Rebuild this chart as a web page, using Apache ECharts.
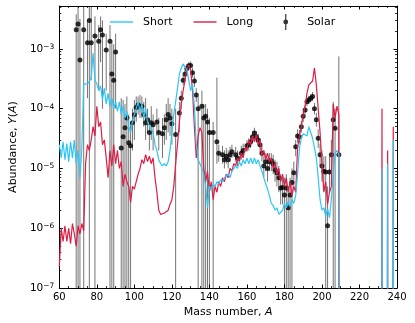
<!DOCTYPE html>
<html>
<head>
<meta charset="utf-8">
<script src="https://cdn.jsdelivr.net/npm/echarts@6/dist/echarts.min.js"></script>
<style>
html, body { margin: 0; padding: 0; background: #fff; }
#main { width: 415px; height: 323px; }
</style>
</head>
<body>
<div id="main"></div>
<script>
// model abundances, one value per mass number starting at A0 (0 = not produced)
var A0 = 60;
var shortY = [
    2.5e-5, 1.5e-5, 2.8e-5, 1.4e-5, 2.6e-5, 1.3e-5, 2.8e-5, 1.5e-5, 3.0e-5, 1.2e-5,   // 60-69
    2.0e-5, 7e-6, 2.2e-5, 2.6e-4, 2.7e-4, 2.6e-4, 2.8e-4, 3.2e-4, 8.5e-4, 3.0e-4,     // 70-79
    2.6e-4, 2.0e-4, 2.4e-4, 1.4e-4, 2.2e-4, 1.2e-4, 1.8e-4, 1.1e-4, 1.5e-4, 1.0e-4,   // 80-89
    1.3e-4, 9e-5, 1.3e-4, 8e-5, 1.1e-4, 7e-5, 9e-5, 5e-5, 4e-5, 6e-5,                 // 90-99
    8e-5, 1.0e-4, 1.3e-4, 9e-5, 1.2e-4, 7e-5, 1.0e-4, 6e-5, 6e-5, 4.5e-5,             // 100-109
    4e-5, 2.5e-5, 2e-5, 1.4e-5, 1.2e-5, 1.1e-5, 1.2e-5, 1.1e-5, 1.3e-5, 2e-5,         // 110-119
    4e-5, 8e-5, 1.3e-4, 2.2e-4, 3.8e-4, 4.8e-4, 5.6e-4, 5.2e-4, 4.5e-4, 3.0e-4,       // 120-129
    2.0e-4, 2.5e-4, 1.1e-4, 2.5e-5, 1.4e-5, 1.2e-5, 1.0e-5, 8e-6, 5e-6, 2.2e-6,       // 130-139
    5e-6, 4.5e-6, 5.5e-6, 5e-6, 6e-6, 5.5e-6, 6.5e-6, 6e-6, 7e-6, 6.5e-6,             // 140-149
    8e-6, 7e-6, 9e-6, 8.5e-6, 1.1e-5, 1.0e-5, 1.3e-5, 1.1e-5, 1.4e-5, 1.2e-5,         // 150-159
    1.5e-5, 1.2e-5, 1.5e-5, 1.2e-5, 1.5e-5, 1.2e-5, 1.4e-5, 1.1e-5, 9e-6, 7e-6,       // 160-169
    5.5e-6, 4.5e-6, 3.5e-6, 2.6e-6, 2.4e-6, 2.0e-6, 2.2e-6, 1.7e-6, 1.6e-6, 2.0e-6,   // 170-179
    2.6e-6, 2.2e-6, 2.8e-6, 2.3e-6, 3.0e-6, 2.6e-6, 3.5e-6, 8e-6, 2.2e-5, 3.2e-5,     // 180-189
    3.8e-5, 4e-5, 3.5e-5, 5e-5, 4e-5, 3.2e-5, 2.2e-5, 1.5e-5, 7e-6, 3e-6,             // 190-199
    2.0e-6, 2.2e-6, 1.6e-6, 2.1e-6, 1.5e-6, 3e-6, 8e-6, 1.8e-5, 2.0e-5, 1.7e-5,       // 200-209
    0, 0, 0, 0, 0, 0, 0, 0, 0, 0,                                                     // 210-219
    0, 0, 0, 0, 0, 0, 0, 0, 0, 0,                                                     // 220-229
    0, 0, 1e-5, 0, 0, 1.2e-5, 0, 0, 3e-5, 0,                                          // 230-239
    0                                                                                 // 240
];
var longY = [
    2.3e-7, 1.0e-6, 6e-7, 1.1e-6, 6e-7, 1.0e-6, 5.5e-7, 1.2e-6, 8e-7, 5e-7,           // 60-69
    1.1e-6, 8e-7, 1.2e-6, 9e-7, 1.2e-5, 2.5e-5, 2e-5, 3e-5, 5e-5, 3.5e-5,             // 70-79
    1.1e-4, 5e-5, 6e-5, 2.5e-5, 3e-5, 1.5e-5, 7e-6, 2e-5, 1.1e-5, 2.5e-5,             // 80-89
    1.2e-5, 2e-5, 1e-5, 1.3e-5, 5e-6, 8e-6, 6e-6, 5e-6, 2.7e-6, 5e-6,                 // 90-99
    4.5e-6, 6e-6, 8e-6, 1e-5, 1.4e-5, 1.2e-5, 1.7e-5, 1.3e-5, 1.6e-5, 1.2e-5,         // 100-109
    1.5e-5, 7e-6, 4e-6, 2e-6, 1.7e-6, 1.6e-6, 1.8e-6, 1.7e-6, 2e-6, 2.5e-6,           // 110-119
    3e-6, 5e-6, 1.2e-5, 2.5e-5, 6e-5, 1.2e-4, 2e-4, 3e-4, 4.5e-4, 5.4e-4,             // 120-129
    4.5e-4, 2e-4, 5e-5, 1.5e-5, 3.5e-5, 4.8e-5, 4e-5, 1e-5, 6e-6, 9e-6,               // 130-139
    4e-6, 6e-6, 3e-6, 5e-6, 4e-6, 6e-6, 5e-6, 7e-6, 6e-6, 8e-6,                       // 140-149
    7e-6, 1e-5, 9e-6, 1.2e-5, 1.1e-5, 1.5e-5, 1.3e-5, 1.8e-5, 1.5e-5, 2.2e-5,         // 150-159
    2e-5, 3e-5, 2.5e-5, 3.5e-5, 2.8e-5, 3.7e-5, 2.5e-5, 3e-5, 1.6e-5, 2e-5,           // 160-169
    1.4e-5, 1.8e-5, 1.3e-5, 1.5e-5, 1e-5, 1.2e-5, 8e-6, 1e-5, 6e-6, 8e-6,             // 170-179
    5e-6, 7e-6, 4e-6, 6e-6, 3.5e-6, 5e-6, 4e-6, 2.2e-5, 3.5e-5, 5e-5,                 // 180-189
    8e-5, 1.1e-4, 1.8e-4, 2.5e-4, 2.4e-4, 2.9e-4, 4.8e-4, 2.5e-4, 1e-4, 4e-5,         // 190-199
    1.2e-5, 4e-6, 6e-6, 2.5e-6, 4e-6, 5e-6, 1.2e-4, 7e-5, 1.1e-4, 8e-5,               // 200-209
    0, 0, 0, 0, 0, 0, 0, 0, 0, 0,                                                     // 210-219
    0, 0, 0, 0, 0, 0, 0, 0, 0, 0,                                                     // 220-229
    0, 0, 1e-4, 0, 0, 2e-5, 0, 0, 5e-5, 0,                                            // 230-239
    0                                                                                 // 240
];

// solar abundances with error bar limits (lower 0 = reaches down past the axis)
var solarA = [69, 70, 71, 73, 75, 76, 77, 79, 81, 82, 83, 85, 87, 88, 89, 90,
    93, 94, 95, 96, 97, 98, 99, 100, 101, 102, 103, 104, 105, 106, 107, 108, 109, 110,
    112, 113, 115, 116, 117, 118, 119, 120,
    122, 124, 125, 126, 127, 128, 129, 130, 131, 132, 133, 134, 136, 137, 138, 139, 140, 142, 144,
    145, 147, 148, 149, 150, 151, 152, 154, 155, 157, 158,
    160, 161, 162, 163, 164, 165, 166, 167, 168, 169, 170, 171, 172, 173, 174, 175, 176, 177, 178, 179,
    180, 181, 182, 183, 184, 185, 186, 187, 188, 189, 190, 191, 192, 193, 194, 195, 196, 197, 198, 199,
    200, 201, 202, 203, 204, 205, 206, 207, 209];
var solarY = [2.1e-3, 2.6e-3, 6.5e-4, 2.1e-3, 1.27e-3, 3.0e-3, 1.27e-3, 1.65e-3, 1.34e-3, 2.1e-3, 1.7e-3, 9.6e-4, 1.34e-3, 3.8e-4, 3.0e-4, 8.9e-4,
    2.2e-5, 3.4e-5, 4.8e-5, 7.0e-5, 2.7e-5, 2.4e-5, 5.8e-5, 7.9e-5, 1.05e-4, 1.15e-4, 1.1e-4, 1.1e-4, 8.0e-5, 5.8e-5, 6.5e-5, 4.0e-5, 5.8e-5, 5.4e-5,
    6.0e-5, 4.0e-5, 3.8e-5, 4.8e-5, 6.5e-5, 8.0e-5, 7.0e-5, 5.6e-5,
    3.7e-5, 8.5e-5, 1.5e-4, 3.0e-4, 3.8e-4, 4.7e-4, 5.2e-4, 5.3e-4, 4.0e-4, 2.9e-4, 1.7e-4, 1.0e-4, 1.1e-4, 7.0e-5, 7.5e-5, 6.0e-5, 4.0e-5, 4.0e-5, 2.8e-5,
    1.8e-5, 1.7e-5, 1.4e-5, 1.6e-5, 1.4e-5, 1.7e-5, 1.9e-5, 1.7e-5, 1.5e-5, 1.8e-5, 2.0e-5,
    2.4e-5, 2.5e-5, 2.8e-5, 3.4e-5, 3.9e-5, 3.4e-5, 3.0e-5, 2.5e-5, 1.8e-5, 1.1e-5, 1.3e-5, 1.0e-5, 1.3e-5, 1.35e-5, 1.2e-5, 9.5e-6, 8.5e-6, 7.0e-6, 4.7e-6, 4.8e-6,
    3.6e-6, 4.7e-6, 2.2e-6, 3.6e-6, 5.8e-6, 8.5e-6, 2.3e-5, 3.5e-5, 3.4e-5, 5.0e-5, 7.5e-5, 9.5e-5, 1.3e-4, 1.4e-4, 1.5e-4, 1.6e-4, 1.0e-4, 6.5e-5, 3.2e-5, 1.7e-5,
    1.1e-5, 9.0e-6, 8.7e-6, 1.1e-6, 8.7e-6, 1.7e-5, 6.5e-5, 4.7e-5, 1.7e-5];
var solarLo = [0, 0, 0, 0, 1.5e-4, 0, 3e-4, 0, 2e-4, 6e-4, 1e-4, 2e-4, 0, 0, 0, 1e-4,
    0, 0, 0, 0, 0, 0, 2e-5, 3e-5, 6e-5, 8e-5, 7e-5, 7e-5, 5e-5, 3e-5, 4e-5, 2e-5, 3e-5, 2e-5,
    3.5e-5, 2e-5, 1.5e-5, 2.5e-5, 3e-5, 4e-5, 3.5e-5, 2.5e-5,
    0, 4e-5, 1e-4, 2.5e-4, 3.2e-4, 4e-4, 4.5e-4, 4.5e-4, 3.3e-4, 2.3e-4, 1.3e-4, 0, 0, 0, 0, 0, 0, 0, 1.2e-5,
    1.3e-5, 1.2e-5, 1e-5, 1.2e-5, 1e-5, 1.3e-5, 1.5e-5, 1.3e-5, 1.1e-5, 1.4e-5, 1.6e-5,
    1.9e-5, 2e-5, 2.2e-5, 2.7e-5, 3.1e-5, 2.7e-5, 2.4e-5, 1.9e-5, 1.3e-5, 7e-6, 9e-6, 6e-6, 9e-6, 9e-6, 8e-6, 6e-6, 5e-6, 4e-6, 2.5e-6, 2.5e-6,
    0, 0, 0, 0, 0, 5e-6, 1.6e-5, 2.7e-5, 2.6e-5, 4e-5, 6e-5, 8e-5, 1.1e-4, 1.2e-4, 1.3e-4, 1.35e-4, 8e-5, 5e-5, 2.2e-5, 1.1e-5,
    6e-6, 5e-6, 0, 0, 4e-6, 8e-6, 0, 0, 0];
var solarHi = [3.8e-3, 1e-2, 3.2e-3, 1e-2, 3e-3, 1e-2, 1e-2, 3.5e-3, 2.5e-3, 3.5e-3, 3e-3, 1.8e-3, 2.5e-3, 1.3e-3, 1.2e-3, 1.8e-3,
    1.5e-4, 1.4e-4, 1.2e-4, 1.6e-4, 8e-5, 6e-5, 1e-4, 1.4e-4, 1.6e-4, 1.6e-4, 1.7e-4, 1.6e-4, 1.3e-4, 1.5e-4, 1e-4, 7e-5, 1.1e-4, 8e-5,
    1e-4, 7e-5, 7e-5, 8e-5, 1.2e-4, 1.5e-4, 1.2e-4, 1e-4,
    1e-4, 1.3e-4, 2e-4, 3.6e-4, 4.5e-4, 5.5e-4, 6e-4, 6.2e-4, 4.8e-4, 3.6e-4, 2.2e-4, 1.6e-4, 2e-4, 1.2e-4, 1.2e-4, 1e-4, 7e-5, 6e-5, 3.3e-4,
    2.5e-5, 2.4e-5, 2e-5, 2.2e-5, 2e-5, 2.3e-5, 2.5e-5, 2.3e-5, 2e-5, 2.4e-5, 2.6e-5,
    3e-5, 3.2e-5, 3.5e-5, 4.2e-5, 4.8e-5, 4.2e-5, 3.8e-5, 3.2e-5, 2.4e-5, 1.6e-5, 1.8e-5, 1.5e-5, 1.8e-5, 1.8e-5, 1.7e-5, 1.4e-5, 1.3e-5, 1.1e-5, 8e-6, 8e-6,
    7e-6, 8e-6, 5e-6, 7e-6, 1e-5, 1.3e-5, 3e-5, 4.5e-5, 4.4e-5, 6.2e-5, 9e-5, 1.15e-4, 1.55e-4, 1.65e-4, 1.75e-4, 1.9e-4, 1.25e-4, 8.5e-5, 4.5e-5, 2.6e-5,
    2e-5, 1.6e-5, 1.6e-5, 5e-6, 1.6e-5, 3e-5, 1.3e-4, 1e-4, 7.5e-4];

var xTicks = [60, 80, 100, 120, 140, 160, 180, 200, 220, 240];
var yDecades = [1e-7, 1e-6, 1e-5, 1e-4, 1e-3];

var FLOOR = 1e-40; // zero has no place on a log axis, draw it far below instead
var FONT = 'DejaVu Sans';

function modelPairs(ys) {
    var out = [];
    for (var i = 0; i < ys.length; i++) {
        out.push([A0 + i, ys[i] > 0 ? ys[i] : FLOOR]);
    }
    return out;
}

var solarPoints = [], solarBars = [];
for (var i = 0; i < solarA.length; i++) {
    solarPoints.push([solarA[i], solarY[i]]);
    solarBars.push([solarA[i], solarLo[i] > 0 ? solarLo[i] : 1e-12, solarHi[i]]);
}

function yLabel(v) {
    for (var k = 0; k < yDecades.length; k++) {
        if (Math.abs(v / yDecades[k] - 1) < 1e-6) {
            return '{b|10}{s|\u2212' + Math.round(-Math.log10(v)) + '}';
        }
    }
    return '';
}

function xAxisCfg(pos) {
    return {
        type: 'value', position: pos, min: xTicks[0], max: xTicks[xTicks.length - 1], interval: 20,
        axisLine: { show: true, onZero: false, lineStyle: { color: '#000', width: 1 } },
        axisTick: { show: true, inside: true, length: 3.5, lineStyle: { color: '#000', width: 1 } },
        minorTick: { show: true, splitNumber: 4, length: 2, lineStyle: { color: '#000', width: 0.8 } },
        splitLine: { show: false },
        axisLabel: { show: pos === 'bottom', color: '#000', fontSize: 10, fontFamily: FONT, margin: 4 },
        name: pos === 'bottom' ? '{n|Mass number, }{i|A}' : '',
        nameLocation: 'middle', nameGap: 15,
        nameTextStyle: { rich: {
            n: { fontSize: 11, fontFamily: FONT, color: '#000' },
            i: { fontSize: 11, fontFamily: FONT, color: '#000', fontStyle: 'italic' }
        } }
    };
}

function yAxisCfg(pos) {
    return {
        type: 'log', logBase: 10, position: pos, min: yDecades[0], max: 5.22e-3,
        axisLine: { show: true, onZero: false, lineStyle: { color: '#000', width: 1 } },
        axisTick: { show: true, inside: true, length: 3.5, lineStyle: { color: '#000', width: 1 } },
        minorTick: { show: true, splitNumber: 9, length: 2, lineStyle: { color: '#000', width: 0.8 } },
        splitLine: { show: false },
        axisLabel: {
            show: pos === 'left', margin: 5, formatter: yLabel,
            rich: {
                b: { fontSize: 10.5, fontFamily: FONT, color: '#000' },
                s: { fontSize: 7.5, fontFamily: FONT, color: '#000', verticalAlign: 'top', padding: [0, 0, 4, 0] }
            }
        },
        name: pos === 'left' ? '{n|Abundance, }{i|Y}{n|(}{i|A}{n|)}' : '',
        nameLocation: 'middle', nameGap: 32, nameRotate: 90,
        nameTextStyle: { rich: {
            n: { fontSize: 11, fontFamily: FONT, color: '#000' },
            i: { fontSize: 11, fontFamily: FONT, color: '#000', fontStyle: 'italic' }
        } }
    };
}

// legend icons: a plain line for the models, a dot on a bar for the data
var lineIcon = 'path://M0,0M23,16M0,7.3h23v1.4h-23z';
var errIcon = 'path://M0,0M23,16M11,0h1.2v16h-1.2zM11.6,5.6a2.4,2.4 0 1,1 0,4.8a2.4,2.4 0 1,1 0,-4.8z';

var myChart = echarts.init(document.getElementById('main'));
var option = {
    animation: false,
    backgroundColor: '#fff',
    grid: { left: 49, right: 18, top: 6, bottom: 35 },
    legend: {
        data: [
            { name: 'Short', icon: lineIcon },
            { name: 'Long', icon: lineIcon },
            { name: 'Solar', icon: errIcon }
        ],
        left: 110, top: 14, padding: 0,
        itemWidth: 23, itemHeight: 16, itemGap: 21,
        textStyle: { fontSize: 11, fontFamily: FONT, color: '#000', padding: [0, 0, 0, 5] }
    },
    xAxis: [xAxisCfg('bottom'), xAxisCfg('top')],
    yAxis: [yAxisCfg('left'), yAxisCfg('right')],
    series: [
        {
            name: 'Long', type: 'line', data: modelPairs(longY),
            symbol: 'none', color: '#dc1e46',
            lineStyle: { color: '#dc1e46', width: 1.2 }, clip: true
        },
        {
            name: 'Short', type: 'line', data: modelPairs(shortY),
            symbol: 'none', color: '#2fc6f6',
            lineStyle: { color: '#2fc6f6', width: 1.2 }, clip: true
        },
        {
            name: 'solar-err', type: 'custom', data: solarBars, clip: true,
            encode: { x: 0, y: [1, 2] },
            renderItem: function (params, api) {
                var top = api.coord([api.value(0), api.value(2)]);
                var bot = api.coord([api.value(0), api.value(1)]);
                return {
                    type: 'line',
                    shape: { x1: top[0], y1: top[1], x2: bot[0], y2: bot[1] },
                    style: { stroke: 'rgba(0,0,0,0.55)', lineWidth: 1 }
                };
            }
        },
        {
            name: 'Solar', type: 'scatter', data: solarPoints,
            symbol: 'circle', symbolSize: 5, color: '#000',
            itemStyle: { color: '#000' }
        }
    ]
};
myChart.setOption(option);
</script>
</body>
</html>
